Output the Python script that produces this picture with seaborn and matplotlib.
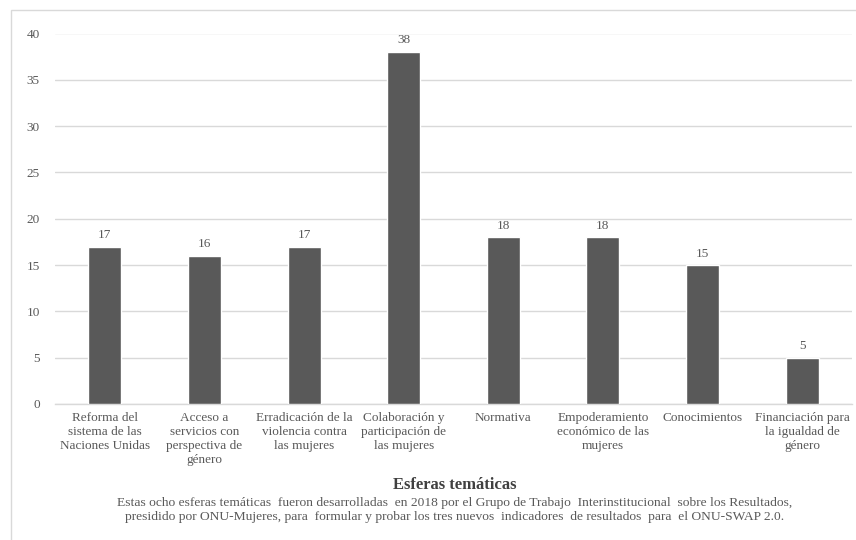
import matplotlib
matplotlib.use("Agg")
import matplotlib.pyplot as plt
import seaborn as sns
import pandas as pd
from matplotlib.patches import Rectangle

categorias = [
    "Reforma del\nsistema de las\nNaciones Unidas",
    "Acceso a\nservicios con\nperspectiva de\ngénero",
    "Erradicación de la\nviolencia contra\nlas mujeres",
    "Colaboración y\nparticipación de\nlas mujeres",
    "Normativa",
    "Empoderamiento\neconómico de las\nmujeres",
    "Conocimientos",
    "Financiación para\nla igualdad de\ngénero",
]
valores = [17, 16, 17, 38, 18, 18, 15, 5]
y_ticks = [0, 5, 10, 15, 20, 25, 30, 35, 40]

titulo_eje = "Esferas temáticas"
nota = ("Estas ocho esferas temáticas  fueron desarrolladas  en 2018 por el Grupo de Trabajo  "
        "Interinstitucional  sobre los Resultados,\n"
        "presidido por ONU-Mujeres, para  formular y probar los tres nuevos  indicadores  "
        "de resultados  para  el ONU-SWAP 2.0.")

df = pd.DataFrame({"categoria": categorias, "valor": valores})

sns.set_theme(style="white")
plt.rcParams["font.family"] = ["Liberation Serif", "DejaVu Serif"]

gris_texto = "#595959"
color_barra = "#595959"

fig = plt.figure(figsize=(8.56, 5.40), dpi=100)
ax = fig.add_axes([55 / 856, 1 - 404 / 540, (852 - 55) / 856, (404 - 33.5) / 540])

sns.barplot(data=df, x="categoria", y="valor", color=color_barra, width=0.33,
            saturation=1, ax=ax, zorder=3)

ax.set_ylim(0, 40)
ax.set_yticks(y_ticks)
ax.set_xlim(-0.5, len(categorias) - 0.5)
ax.yaxis.grid(True, color="#d9d9d9", linewidth=1.0, zorder=0)
ax.xaxis.grid(False)
for s in ["top", "right", "left"]:
    ax.spines[s].set_visible(False)
ax.spines["bottom"].set_color("#d9d9d9")
ax.spines["bottom"].set_linewidth(1.0)

ax.tick_params(axis="y", labelsize=9.5, labelcolor=gris_texto, length=0, pad=11)
ax.tick_params(axis="x", labelsize=9.5, labelcolor=gris_texto, length=0, pad=6)
for lab in ax.get_xticklabels():
    lab.set_linespacing(1.2)
    lab.set_horizontalalignment("center")

ax.set_xlabel("")
ax.set_ylabel("")

for i, v in enumerate(valores):
    ax.annotate(str(v), (i, v), xytext=(0, 4), textcoords="offset points",
                ha="center", va="bottom", fontsize=9.5, color=gris_texto)

fig.text(455 / 856, 1 - 485 / 540, titulo_eje, ha="center", va="center",
         fontsize=12, fontweight="bold", color="#404040")
fig.text(455 / 856, 1 - 510 / 540, nota, ha="center", va="center",
         fontsize=9.7, color=gris_texto, linespacing=1.12)

# marco exterior del gráfico
fig.patches.append(Rectangle((11 / 856, -0.05), 1.0, 1 - 10 / 540 + 0.05,
                             transform=fig.transFigure, fill=False,
                             edgecolor="#d9d9d9", linewidth=1.0))

fig.savefig("out.png", dpi=100, facecolor="white")
